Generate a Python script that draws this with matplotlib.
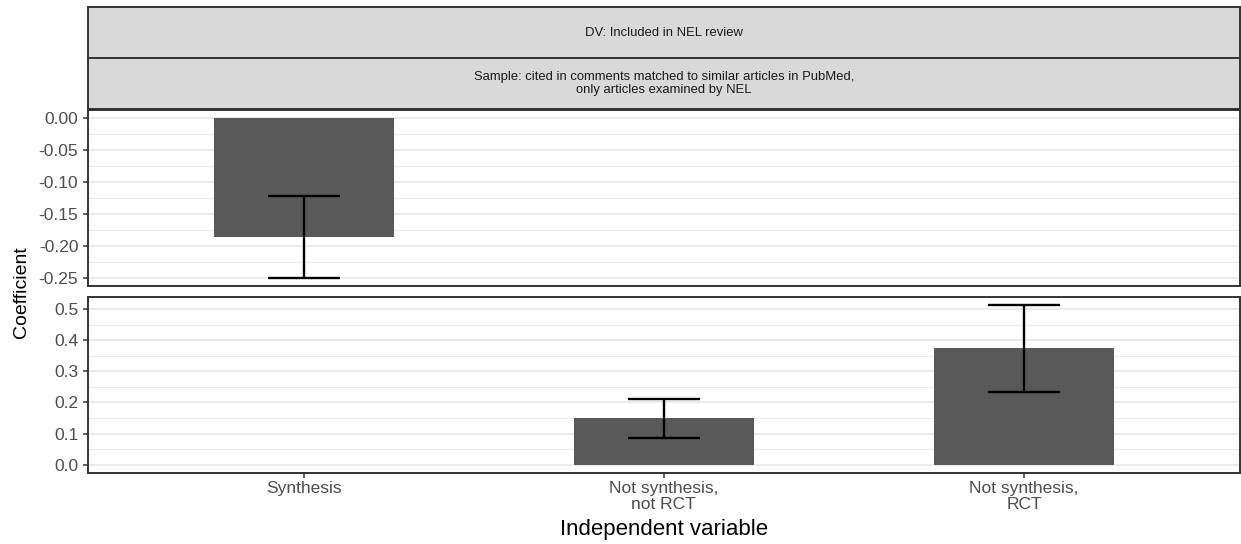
import matplotlib.pyplot as plt
from matplotlib.ticker import MultipleLocator

plt.rcParams["font.family"] = ["Liberation Sans", "DejaVu Sans"]

# coefficient estimates with 95% intervals, one row per independent variable
categories = ["Synthesis", "Not synthesis,\nnot RCT", "Not synthesis,\nRCT"]
coef = [-0.186, 0.151, 0.374]
ci_low = [-0.250, 0.087, 0.235]
ci_high = [-0.122, 0.211, 0.514]
panel = [0, 1, 1]  # facet: 0 = negative estimates, 1 = positive estimates

strip_titles = [
    "DV: Included in NEL review",
    "Sample: cited in comments matched to similar articles in PubMed,\n"
    "only articles examined by NEL",
]

W, H = 1241, 544
fig = plt.figure(figsize=(W / 100, H / 100), dpi=100)

GREY_BAR = "#595959"
GRID = "#EBEBEB"
BORDER = "#333333"
TICKTXT = "#4D4D4D"


def px_rect(left, top, right, bottom):
    return [left / W, 1 - bottom / H, (right - left) / W, (bottom - top) / H]


left, right = 87.7, 1240.0
ax_top = fig.add_axes(px_rect(left, 110, right, 285.5))
ax_bot = fig.add_axes(px_rect(left, 296.7, right, 472.7))

# facet strips
for (t, b), txt in zip([(7.3, 58), (58, 109)], strip_titles):
    sax = fig.add_axes(px_rect(left, t, right, b))
    sax.set_xticks([])
    sax.set_yticks([])
    sax.set_facecolor("#D9D9D9")
    for s in sax.spines.values():
        s.set_color(BORDER)
        s.set_linewidth(1.4)
    sax.text(0.5, 0.5, txt, ha="center", va="center", fontsize=9.4,
             color="#1A1A1A", transform=sax.transAxes, linespacing=1.1)

x = list(range(1, len(categories) + 1))

for i, ax in enumerate([ax_top, ax_bot]):
    idx = [k for k in range(len(categories)) if panel[k] == i]
    vals = [0.0] + [ci_low[k] for k in idx] + [ci_high[k] for k in idx] + [coef[k] for k in idx]
    lo, hi = min(vals), max(vals)
    pad = 0.05 * (hi - lo)
    ax.set_ylim(lo - pad, hi + pad)
    ax.set_xlim(0.4, len(categories) + 0.6)

    for k in idx:
        ax.bar(x[k], coef[k], width=0.5, color=GREY_BAR, zorder=2)
        ax.vlines(x[k], ci_low[k], ci_high[k], color="black", lw=1.7, zorder=3)
        ax.hlines([ci_low[k], ci_high[k]], x[k] - 0.1, x[k] + 0.1,
                  color="black", lw=1.7, zorder=3)

    step = 0.05 if i == 0 else 0.1
    ax.yaxis.set_major_locator(MultipleLocator(step))
    ax.yaxis.set_minor_locator(MultipleLocator(step / 2))
    ax.grid(axis="y", which="major", color=GRID, lw=1.4, zorder=0)
    ax.grid(axis="y", which="minor", color=GRID, lw=0.8, zorder=0)
    ax.set_axisbelow(True)
    fmt = "%.2f" if i == 0 else "%.1f"
    ax.yaxis.set_major_formatter(plt.FormatStrFormatter(fmt))
    ax.tick_params(axis="y", which="major", length=3.8, width=1.1, color=BORDER,
                   labelsize=12.5, labelcolor=TICKTXT, pad=3)
    ax.tick_params(axis="y", which="minor", length=0)
    for s in ax.spines.values():
        s.set_color(BORDER)
        s.set_linewidth(1.4)

ax_top.set_xticks([])
ax_bot.set_xticks(x)
ax_bot.set_xticklabels(categories, linespacing=1.12)
ax_bot.tick_params(axis="x", length=3.8, width=1.1, color=BORDER,
                   labelsize=12.5, labelcolor=TICKTXT, pad=2)

fig.text(left / W + (right - left) / W / 2, 1 - 529 / H, "Independent variable",
         ha="center", va="center", fontsize=16)
fig.text(21.5 / W, 1 - 292 / H, "Coefficient", ha="center", va="center",
         rotation=90, fontsize=14)

fig.savefig("out.png", dpi=100)
